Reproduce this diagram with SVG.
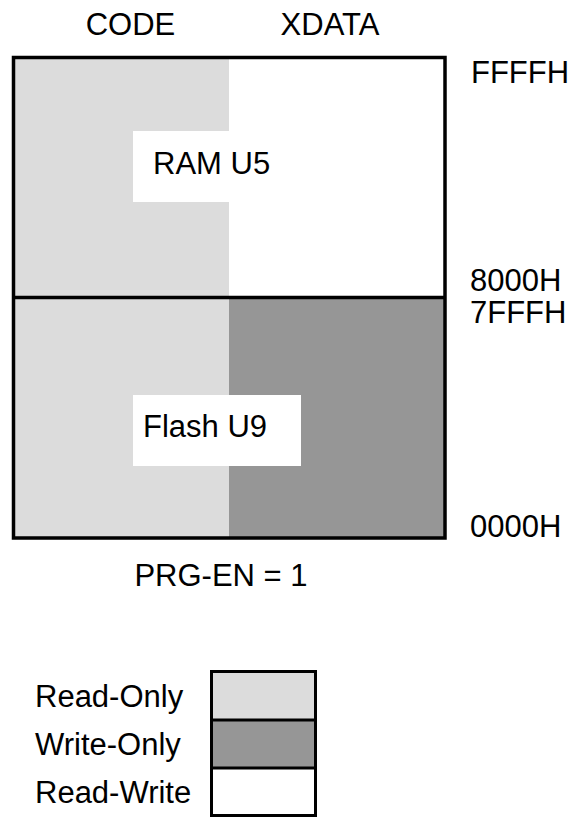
<svg xmlns="http://www.w3.org/2000/svg" width="571" height="817" viewBox="0 0 571 817">
<style>
text{font-family:"Liberation Sans",Arial,sans-serif;font-size:31px;fill:#000}
.ro{fill:#dcdcdc}
.wo{fill:#969696}
.rw{fill:#fff}
.edge{fill:none;stroke:#000;stroke-width:3.5}
</style>
<rect width="571" height="817" fill="#fff"/>
<g id="map">
<rect class="ro" x="13.5" y="57.5" width="215.5" height="480.5"/>
<rect class="wo" x="229" y="297.5" width="216" height="240.5"/>
</g>
<g id="ram">
<rect class="rw" x="133" y="131" width="96" height="71"/>
<text x="153" y="174">RAM U5</text>
</g>
<g id="flash">
<rect class="rw" x="133" y="395" width="168" height="71"/>
<text x="143" y="437">Flash U9</text>
</g>
<g id="connectors">
<rect class="edge" x="13.5" y="57.5" width="431.5" height="480.5"/>
<line class="edge" x1="13.5" y1="297.5" x2="445" y2="297.5"/>
</g>
<g id="labels">
<text x="130.5" y="35" text-anchor="middle">CODE</text>
<text x="330" y="35" text-anchor="middle">XDATA</text>
<text x="471" y="83">FFFFH</text>
<text x="470" y="291">8000H</text>
<text x="470" y="323">7FFFH</text>
<text x="470" y="537">0000H</text>
<text x="221" y="586" text-anchor="middle">PRG-EN = 1</text>
</g>
<g id="legend">
<rect class="ro" x="211.5" y="671.5" width="104" height="48.5"/>
<rect class="wo" x="211.5" y="720" width="104" height="48"/>
<rect class="rw" x="211.5" y="768" width="104" height="47.5"/>
<rect class="edge" x="211.5" y="671.5" width="104" height="144" style="stroke-width:3"/>
<line class="edge" x1="211.5" y1="720" x2="315.5" y2="720" style="stroke-width:3"/>
<line class="edge" x1="211.5" y1="768" x2="315.5" y2="768" style="stroke-width:3"/>
<text x="35" y="707">Read-Only</text>
<text x="35" y="755">Write-Only</text>
<text x="35" y="803">Read-Write</text>
</g>
</svg>
